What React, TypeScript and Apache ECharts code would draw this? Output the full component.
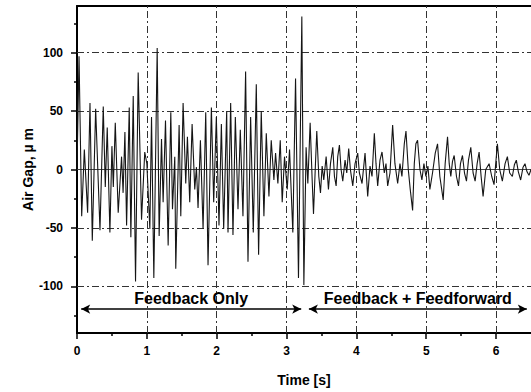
import React, { useEffect, useRef } from "react";
import * as echarts from "echarts";

// Time stamps (s) of the read-off turning points of the air-gap trace
const times = [
  0, 0.029, 0.067, 0.105, 0.152, 0.186, 0.219, 0.267, 0.329, 0.376, 0.405, 0.433, 0.471, 0.5, 0.52, 0.548,
  0.59, 0.638, 0.66, 0.686, 0.71, 0.748, 0.771, 0.805, 0.838, 0.876, 0.924, 0.97, 1.0, 1.043, 1.067,
  1.1, 1.148, 1.176, 1.21, 1.233, 1.267, 1.305, 1.343, 1.367, 1.4, 1.414, 1.462, 1.486, 1.519, 1.557,
  1.581, 1.614, 1.648, 1.686, 1.71, 1.733, 1.767, 1.805, 1.843, 1.876, 1.924, 1.957, 1.995, 2.033,
  2.067, 2.1, 2.143, 2.162, 2.2, 2.233, 2.267, 2.305, 2.338, 2.376, 2.414, 2.448, 2.486, 2.524, 2.567,
  2.6, 2.638, 2.676, 2.71, 2.748, 2.781, 2.819, 2.843, 2.876, 2.91, 2.938, 2.971, 3.01, 3.043, 3.09,
  3.129, 3.171, 3.219, 3.248,
  3.28, 3.305, 3.338, 3.367, 3.386, 3.414, 3.433, 3.462, 3.486, 3.51, 3.533, 3.567, 3.6, 3.629, 3.662,
  3.686, 3.71, 3.733, 3.757, 3.781, 3.805, 3.838, 3.862, 3.89, 3.914, 3.948, 3.981, 4.019, 4.043, 4.081,
  4.124, 4.162, 4.195, 4.224, 4.257, 4.281, 4.305, 4.338, 4.367, 4.4, 4.424, 4.448, 4.481, 4.519, 4.552,
  4.591, 4.624, 4.652, 4.686, 4.71, 4.743, 4.771, 4.805, 4.829, 4.852, 4.876, 4.91, 4.938, 4.967, 4.995,
  5.024, 5.052, 5.09, 5.129, 5.162, 5.195, 5.243, 5.271, 5.305, 5.329, 5.352, 5.376, 5.4, 5.433, 5.462,
  5.49, 5.519, 5.548, 5.576, 5.605, 5.638, 5.671, 5.7, 5.729, 5.757, 5.786, 5.814, 5.852, 5.9, 5.938,
  5.971, 5.995, 6.019, 6.052, 6.09, 6.129, 6.162, 6.195, 6.233, 6.262, 6.29, 6.319, 6.352, 6.386, 6.414,
  6.443, 6.471, 6.5,
];

// Air gap (µm) at those time stamps
const gap = [
  0, 97, -40, 17, -37, 57, -61, 52, -52, 54, -15, 36, -54, 20, -15, 40,
  -37, 11, -20, 32, -48, 53, -58, 63, -96, 83, -43, 15, 5, -51, 45,
  -93, 104, -57, 26, -28, 42, -65, 49, -34, 11, -85, 38, -40, 57, -12,
  28, -28, 39, -17, 2, -33, 25, -51, 49, -82, 53, -28, 45, -48,
  39, -51, 50, -54, 57, -56, 45, -34, 34, -40, 84, -79, 45, -54, 73,
  -73, 50, -40, 31, -23, 25, -9, 14, -12, 25, -28, 11, -17, 17, -54,
  78, -93, 131, -99,
  19, -12, 40, -9, -38, 5, 33, -6, -20, 3, -9, 11, -17, 5, 19,
  -6, -14, 11, 21, 0, -10, 8, -3, 18, 0, -14, 5, 14, -3, -12,
  14, -23, 3, -6, 31, 5, -14, 8, 15, -3, 5, -14, -3, 38, 5,
  -12, 5, -6, 22, 33, 0, -17, -35, 5, 22, 25, 0, -9, 5, -6,
  3, -17, -3, 14, 22, -6, -26, 5, 28, 5, -6, 7, 12, -6, -14,
  5, 12, -3, -10, 8, 19, -3, -10, 5, 15, -6, -23, 0, 5, -6,
  -13, 5, 22, 0, -10, 5, 11, -3, -6, 4, 8, -2, -9, 2, 5,
  -2, -5, 0,
];

const xMajor = [0, 1, 2, 3, 4, 5, 6];
const xMinor = [0.5, 1.5, 2.5, 3.5, 4.5, 5.5];
const yMajor = [-100, -50, 0, 50, 100];
const yMinor = [-125, -75, -25, 25, 75, 125];
const xGrid = [1, 2, 3, 4, 5, 6];
const yGrid = [-100, -50, 50, 100];

const FONT = "'Liberation Sans', Arial, Helvetica, sans-serif";

export default function App() {
  const ref = useRef<HTMLDivElement>(null);
  useEffect(() => {
    if (!ref.current) return;
    const chart = echarts.init(ref.current, null, { renderer: "svg" });
    const data = times.map((t, i) => [t, gap[i]]);
    const gridStyle = { type: [7, 3, 2, 3], color: "#333", width: 1 };
    const arrowLabel = (text: string) => ({
      show: true,
      formatter: text,
      position: "insideMiddleTop",
      distance: 3,
      color: "#000",
      fontSize: 16,
      fontWeight: "bold",
      fontFamily: FONT,
    });
    chart.setOption({
      animation: false,
      backgroundColor: "#fff",
      grid: { left: 77, right: 0, top: 6, bottom: 53, containLabel: false },
      xAxis: [
        {
          type: "value",
          min: 0,
          max: 6.5,
          position: "bottom",
          name: "Time [s]",
          nameLocation: "middle",
          nameGap: 40,
          nameTextStyle: { color: "#000", fontSize: 14, fontWeight: "bold", fontFamily: FONT },
          axisLine: { show: true, onZero: false, lineStyle: { color: "#000", width: 2 } },
          axisTick: { show: true, customValues: xMajor, length: 6, lineStyle: { color: "#000", width: 1.5 } },
          axisLabel: { customValues: xMajor, margin: 12, color: "#000", fontSize: 12, fontWeight: "bold", fontFamily: FONT },
          splitLine: { show: false },
        },
        {
          type: "value",
          min: 0,
          max: 6.5,
          position: "bottom",
          axisLine: { show: false, onZero: false },
          axisTick: { show: true, customValues: xMinor, length: 3, lineStyle: { color: "#000", width: 1.5 } },
          axisLabel: { show: false },
          splitLine: { show: false },
        },
        {
          type: "value",
          min: 0,
          max: 6.5,
          position: "top",
          axisLine: { show: true, onZero: false, lineStyle: { color: "#000", width: 2 } },
          axisTick: { show: false },
          axisLabel: { show: false },
          splitLine: { show: false },
        },
      ],
      yAxis: [
        {
          type: "value",
          min: -140,
          max: 140,
          position: "left",
          name: "Air Gap, µ m",
          nameLocation: "middle",
          nameRotate: 90,
          nameGap: 42,
          nameMoveOverlap: false,
          nameTextStyle: { color: "#000", fontSize: 14, fontWeight: "bold", fontFamily: FONT },
          axisLine: { show: true, onZero: false, lineStyle: { color: "#000", width: 2 } },
          axisTick: { show: true, customValues: yMajor, length: 6, lineStyle: { color: "#000", width: 1.5 } },
          axisLabel: { customValues: yMajor, margin: 14, color: "#000", fontSize: 12, fontWeight: "bold", fontFamily: FONT },
          splitLine: { show: false },
        },
        {
          type: "value",
          min: -140,
          max: 140,
          position: "left",
          axisLine: { show: false, onZero: false },
          axisTick: { show: true, customValues: yMinor, length: 3, lineStyle: { color: "#000", width: 1.5 } },
          axisLabel: { show: false },
          splitLine: { show: false },
        },
      ],
      series: [
        {
          type: "line",
          xAxisIndex: 0,
          yAxisIndex: 0,
          data,
          showSymbol: false,
          symbol: "none",
          silent: true,
          lineStyle: { color: "#151515", width: 1.1 },
          z: 3,
          markLine: {
            silent: true,
            symbol: "none",
            label: { show: false },
            z: 2,
            data: [
              ...xGrid.map((v) => ({ xAxis: v, lineStyle: gridStyle })),
              ...yGrid.map((v) => ({ yAxis: v, lineStyle: gridStyle })),
              { yAxis: 0, lineStyle: { type: "solid", color: "#444", width: 1 } },
            ],
          },
        },
        {
          type: "line",
          xAxisIndex: 0,
          yAxisIndex: 0,
          data: [],
          silent: true,
          markLine: {
            silent: true,
            symbol: ["arrow", "arrow"],
            symbolSize: [7, 9],
            lineStyle: { type: "solid", color: "#000", width: 1.5 },
            data: [
              [
                { coord: [0.06, -119.5], label: arrowLabel("Feedback Only") },
                { coord: [3.21, -119.5] },
              ],
              [
                { coord: [3.32, -119.5], label: arrowLabel("Feedback + Feedforward") },
                { coord: [6.44, -119.5] },
              ],
            ],
          },
        },
      ],
    });
    return () => chart.dispose();
  }, []);
  return (
    <div
      ref={ref}
      style={{ position: "fixed", left: 0, top: 0, width: 531, height: 392, background: "#fff" }}
    />
  );
}
